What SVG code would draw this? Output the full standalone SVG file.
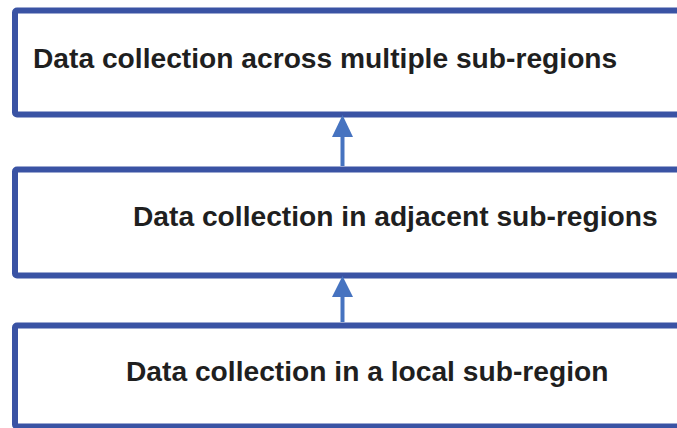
<svg xmlns="http://www.w3.org/2000/svg" width="677" height="428" viewBox="0 0 677 428">
<style>
.box{fill:#fff;stroke:#3A53A4;stroke-width:6}
.lbl{font-family:"Liberation Sans",Arial,sans-serif;font-weight:bold;font-size:28.2px;fill:#1f1f1f}
.conn{stroke:#4673C0;stroke-width:4;fill:none}
.head{fill:#4673C0}
</style>
<rect width="677" height="428" fill="#fff"/>
<g id="node-top">
<rect class="box" x="15" y="10.5" width="700" height="104" rx="2"/>
<text class="lbl" x="33" y="68">Data collection across multiple sub-regions</text>
</g>
<g id="node-middle">
<rect class="box" x="15" y="169.5" width="700" height="106" rx="2"/>
<text class="lbl" x="133" y="226">Data collection in adjacent sub-regions</text>
</g>
<g id="node-bottom">
<rect class="box" x="15" y="325.5" width="700" height="101" rx="2"/>
<text class="lbl" x="126" y="381">Data collection in a local sub-region</text>
</g>
<g id="connectors">
<line class="conn" x1="342.5" y1="166" x2="342.5" y2="136"/>
<polygon class="head" points="342.5,115 353,137 332,137"/>
<line class="conn" x1="342.5" y1="322" x2="342.5" y2="295"/>
<polygon class="head" points="342.5,276 353,297 332,297"/>
</g>
</svg>
